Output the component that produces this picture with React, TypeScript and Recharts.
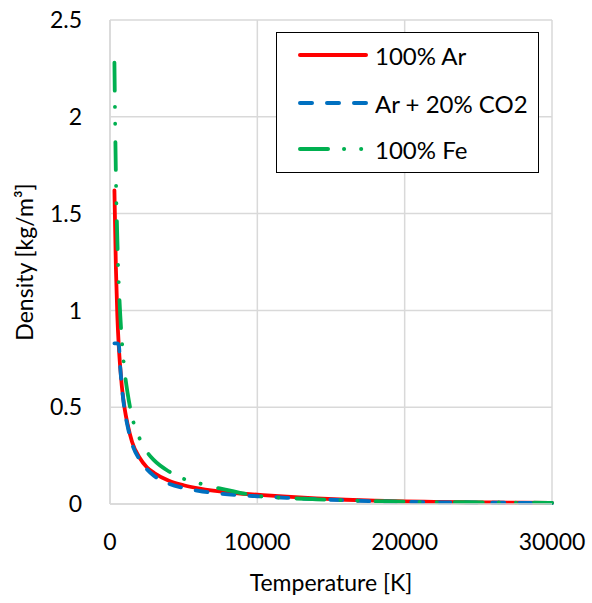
import React from 'react';
import { LineChart, Line, XAxis, YAxis, CartesianGrid } from 'recharts';

// Temperature grid [K]
const temperatures = [
  300, 400, 500, 600, 700, 800, 1000, 1200, 1500, 2000, 2500, 3000, 4000, 5000,
  6000, 7000, 8000, 9000, 10000, 12000, 14000, 16000, 18000, 20000, 22000,
  24000, 26000, 28000, 30000,
];

// Density [kg/m3] per gas
const densityAr = [
  1.62, 1.22, 0.97, 0.81, 0.7, 0.61, 0.49, 0.41, 0.32, 0.24, 0.19, 0.16, 0.12,
  0.097, 0.081, 0.069, 0.06, 0.053, 0.048, 0.038, 0.029, 0.022, 0.017, 0.013,
  0.011, 0.009, 0.008, 0.007, 0.006,
];
const densityArCo2 = [
  0.83, 0.83, 0.83, 0.82, 0.7, 0.61, 0.48, 0.4, 0.31, 0.23, 0.18, 0.145, 0.105,
  0.083, 0.068, 0.058, 0.05, 0.044, 0.04, 0.032, 0.025, 0.019, 0.014, 0.011,
  0.009, 0.008, 0.007, 0.006, 0.005,
];
const densityFe = [
  2.28, 1.7, 1.36, 1.13, 0.97, 0.85, 0.68, 0.57, 0.45, 0.34, 0.27, 0.225, 0.168,
  0.13, 0.108, 0.088, 0.072, 0.055, 0.042, 0.031, 0.024, 0.019, 0.015, 0.012,
  0.01, 0.009, 0.008, 0.007, 0.006,
];

const xTicks = [0, 10000, 20000, 30000];
const yTicks = [0, 0.5, 1, 1.5, 2, 2.5];

const seriesNames = ['100% Ar', 'Ar + 20% CO2', '100% Fe'];

const rows = temperatures.map((t, i) => ({
  t,
  ar: densityAr[i],
  arCo2: densityArCo2[i],
  fe: densityFe[i],
}));

const FONT = 'Lato, "Open Sans", sans-serif';
const GRID = '#d9d9d9';

const styles = [
  { key: 'ar', color: '#ff0000', dash: undefined as string | undefined },
  { key: 'arCo2', color: '#0070c0', dash: '12 15' },
  { key: 'fe', color: '#00b050', dash: '28 16 0.1 17 0.1 18' },
];

const XTick = (props: any) => {
  const { x, y, payload } = props;
  return (
    <text x={x} y={y + 46} textAnchor="middle" fontSize={23} fontFamily={FONT} fill="#000">
      {payload.value}
    </text>
  );
};

const YTick = (props: any) => {
  const { x, y, payload } = props;
  return (
    <text x={x - 28} y={y} dy="0.36em" textAnchor="end" fontSize={23} fontFamily={FONT} fill="#000">
      {payload.value}
    </text>
  );
};

// boxed legend overlaid on the top-right of the plot
const LegendBox = () => (
  <div
    style={{
      position: 'absolute',
      left: 276,
      top: 32,
      width: 261,
      height: 139,
      border: '1.5px solid #000',
      background: '#fff',
      fontFamily: FONT,
    }}
  >
    {styles.map((s, i) => (
      <div
        key={s.key}
        style={{
          position: 'absolute',
          left: 0,
          top: [22, 70, 116][i] - 16,
          height: 32,
          display: 'flex',
          alignItems: 'center',
        }}
      >
        <svg width={98} height={32}>
          <line
            x1={23}
            x2={89}
            y1={16}
            y2={16}
            stroke={s.color}
            strokeWidth={4}
            strokeLinecap="round"
            strokeDasharray={s.dash}
          />
        </svg>
        <span style={{ fontSize: 24, color: '#000', whiteSpace: 'nowrap' }}>
          {seriesNames[i]}
        </span>
      </div>
    ))}
  </div>
);

export default function App() {
  return (
    <div style={{ position: 'absolute', left: 0, top: 0, width: 592, height: 603, background: '#fff' }}>
      <LineChart
        width={592}
        height={603}
        data={rows}
        margin={{ top: 20, right: 40, bottom: 0, left: 0 }}
      >
        <CartesianGrid stroke={GRID} strokeWidth={1.5} />
        <XAxis
          dataKey="t"
          type="number"
          domain={[0, 30000]}
          ticks={xTicks}
          height={99}
          tickLine={false}
          tickSize={0}
          tickMargin={0}
          axisLine={{ stroke: GRID, strokeWidth: 1.5 }}
          tick={<XTick />}
          label={{
            value: 'Temperature [K]',
            position: 'insideBottom',
            offset: 12,
            fontSize: 23,
            fontFamily: FONT,
            fill: '#000',
          }}
        />
        <YAxis
          type="number"
          domain={[0, 2.5]}
          ticks={yTicks}
          width={110}
          tickLine={false}
          tickSize={0}
          tickMargin={0}
          axisLine={{ stroke: GRID, strokeWidth: 1.5 }}
          tick={<YTick />}
          label={{
            value: 'Density [kg/m³]',
            angle: -90,
            position: 'insideLeft',
            offset: 25,
            fontSize: 23,
            fontFamily: FONT,
            fill: '#000',
            style: { textAnchor: 'middle' },
          }}
        />
        {styles.map((s, i) => (
          <Line
            key={s.key}
            type="monotone"
            dataKey={s.key}
            name={seriesNames[i]}
            stroke={s.color}
            strokeWidth={3.8}
            strokeLinecap="round"
            strokeDasharray={s.dash}
            dot={false}
            activeDot={false}
            isAnimationActive={false}
          />
        ))}
      </LineChart>
      <LegendBox />
    </div>
  );
}
